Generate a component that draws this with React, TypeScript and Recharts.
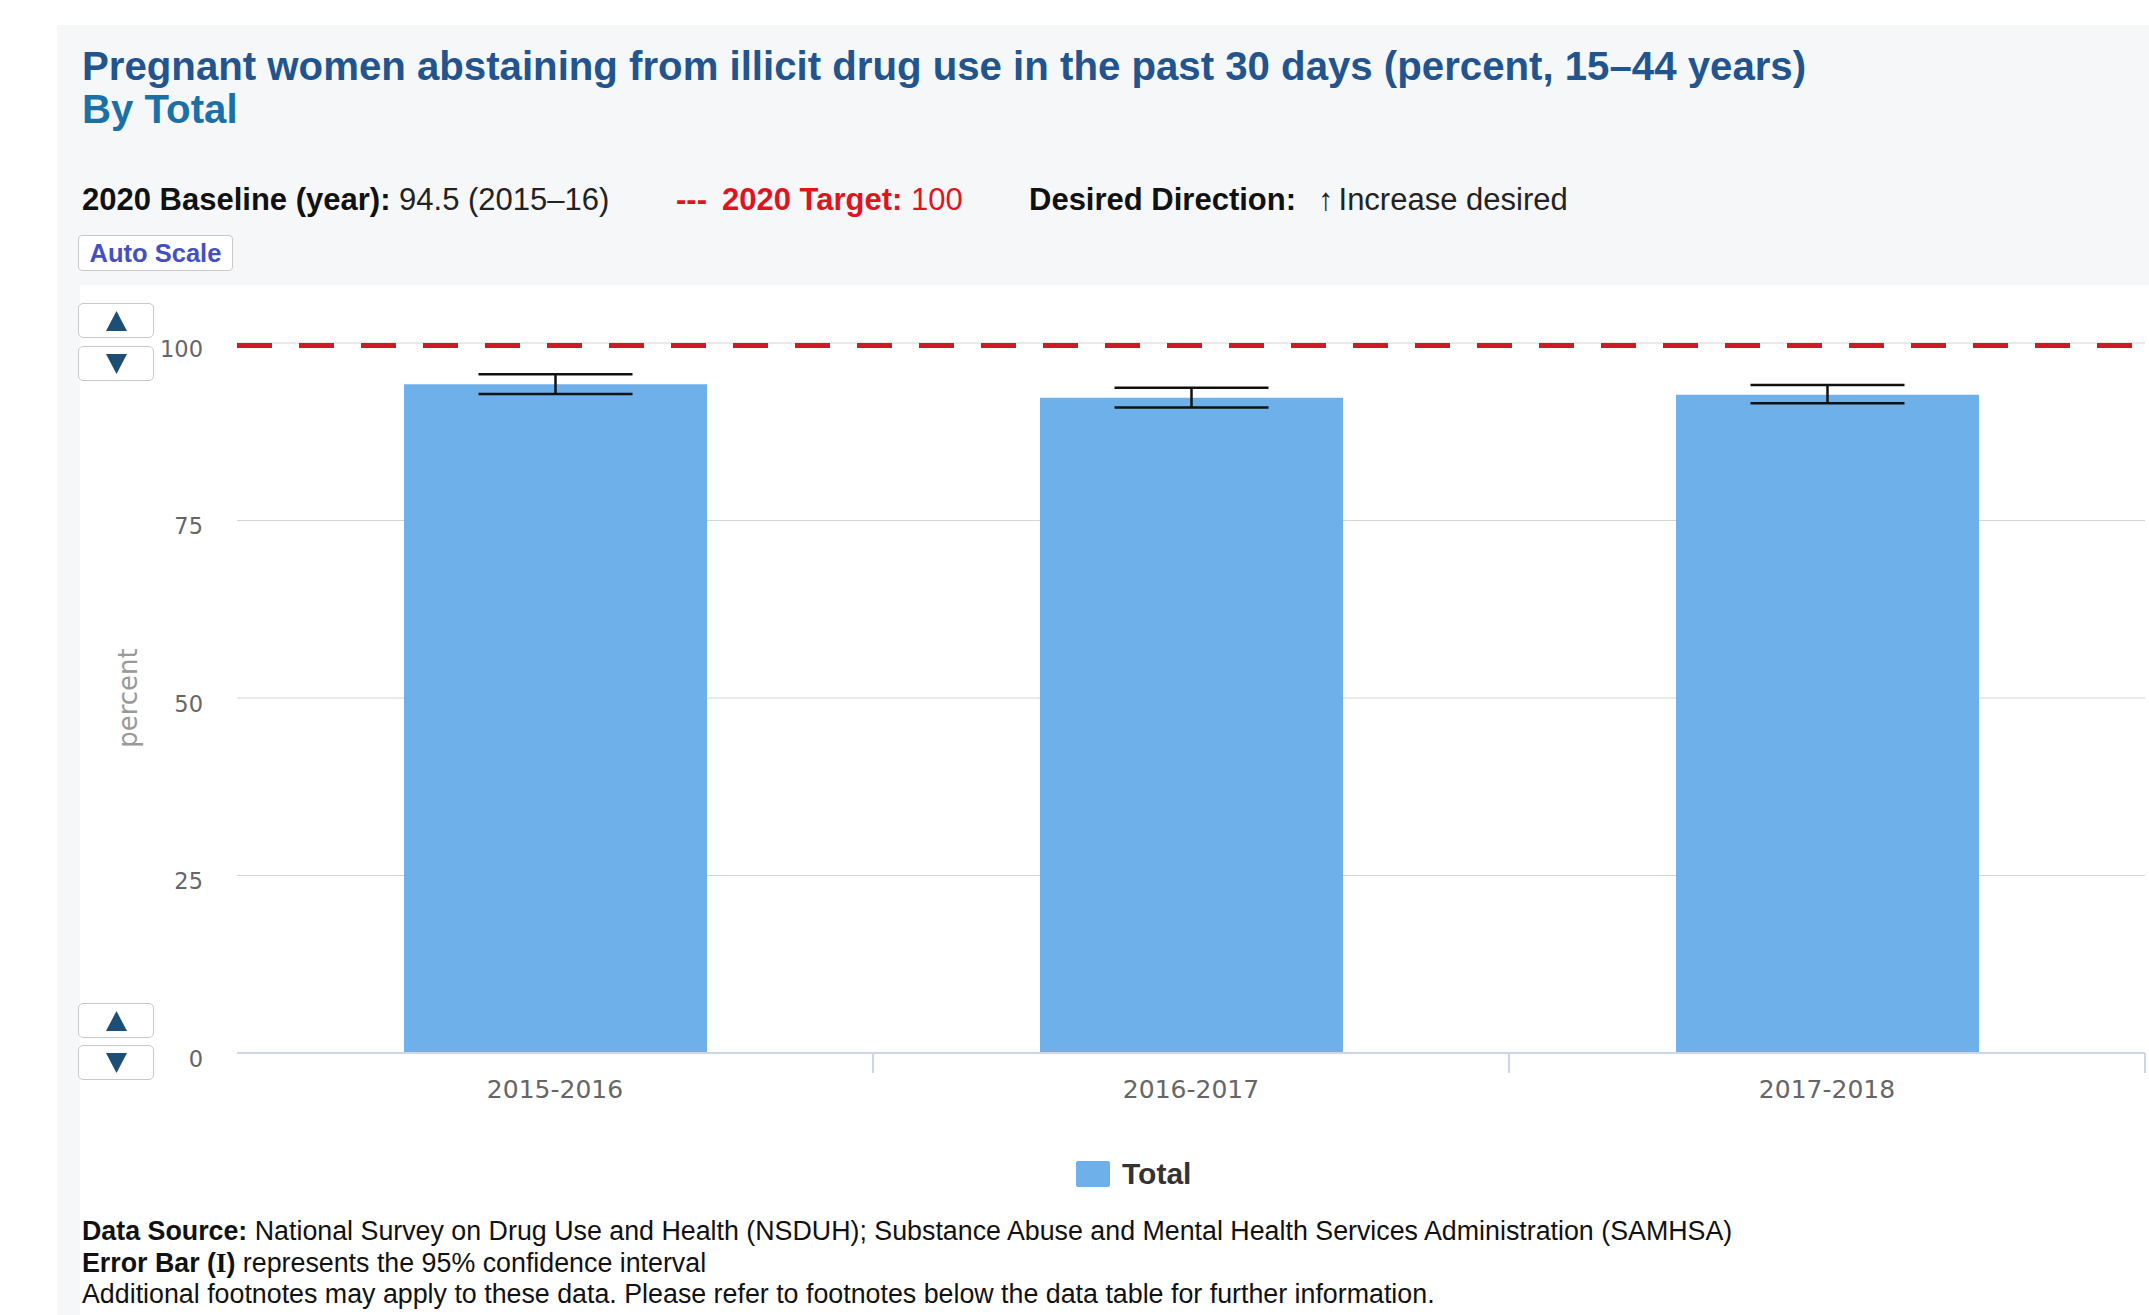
import React from "react";
import {
  BarChart,
  Bar,
  XAxis,
  YAxis,
  CartesianGrid,
  ReferenceLine,
  ErrorBar,
  Label,
} from "recharts";

// values
const CATEGORIES = ["2015-2016", "2016-2017", "2017-2018"];
const TOTAL = [94.2, 92.3, 92.7];
const CI_LOW = [92.8, 90.9, 91.5];
const CI_HIGH = [95.6, 93.7, 94.1];
const Y_TICKS = [0, 25, 50, 75, 100];
const TARGET = 100;

const BAR_COLOR = "#6eb0ea";
const RED = "#e0141e";
const SANS = "'Liberation Sans', Arial, Helvetica, sans-serif";
const AXIS_FONT = "'DejaVu Sans', sans-serif";

const data = CATEGORIES.map((year, i) => ({
  year,
  total: TOTAL[i],
  ci: [TOTAL[i] - CI_LOW[i], CI_HIGH[i] - TOTAL[i]],
}));

const XTick = (props: any) => (
  <text
    x={props.x}
    y={props.y}
    dy={19}
    textAnchor="middle"
    fill="#666"
    fontSize={25}
    fontFamily={AXIS_FONT}
  >
    {props.payload.value}
  </text>
);

const YTick = (props: any) => (
  <text
    x={props.x}
    y={props.y}
    dy={13.5}
    textAnchor="end"
    fill="#666"
    fontSize={22.5}
    fontFamily={AXIS_FONT}
  >
    {props.payload.value}
  </text>
);

// target line sits a touch below the 100 gridline in the original
const TargetLine = (p: any) => (
  <line
    x1={p.x1}
    y1={p.y1 + 2.5}
    x2={p.x2}
    y2={p.y2 + 2.5}
    stroke="#cc1b26"
    strokeWidth={5}
    strokeDasharray="35 27"
  />
);

function ArrowButton({ top, up }: { top: number; up: boolean }) {
  return (
    <div
      style={{
        position: "absolute",
        left: 78,
        top,
        width: 74,
        height: 33,
        border: "1px solid #c9c9c9",
        borderRadius: 5,
        background: "#fff",
        boxSizing: "content-box",
      }}
    >
      <svg width={74} height={33} style={{ display: "block" }}>
        {up ? (
          <polygon points="27,27 48,27 37.5,7" fill="#1d4e75" />
        ) : (
          <polygon points="27,7 48,7 37.5,27" fill="#1d4e75" />
        )}
      </svg>
    </div>
  );
}

export default function App() {
  return (
    <div
      style={{
        position: "relative",
        width: 2149,
        height: 1315,
        background: "#fff",
        overflow: "hidden",
        fontFamily: SANS,
      }}
    >
      <style>{`body{margin:0}`}</style>
      {/* panel backgrounds */}
      <div
        style={{
          position: "absolute",
          left: 57,
          top: 25,
          width: 2092,
          height: 1290,
          background: "#f6f7f9",
        }}
      />
      <div
        style={{
          position: "absolute",
          left: 80,
          top: 285,
          width: 2069,
          height: 1030,
          background: "#fff",
        }}
      />

      {/* title */}
      <div
        style={{
          position: "absolute",
          left: 82,
          top: 47,
          fontSize: 40.2,
          lineHeight: "40px",
          fontWeight: "bold",
          color: "#22548e",
          whiteSpace: "nowrap",
        }}
      >
        Pregnant women abstaining from illicit drug use in the past 30 days
        (percent, 15–44 years)
      </div>
      <div
        style={{
          position: "absolute",
          left: 82,
          top: 90,
          fontSize: 40.2,
          lineHeight: "40px",
          fontWeight: "bold",
          color: "#1a70a8",
          whiteSpace: "nowrap",
        }}
      >
        By Total
      </div>

      {/* info row */}
      <div
        style={{
          position: "absolute",
          left: 82,
          top: 184,
          fontSize: 31,
          lineHeight: "31px",
          color: "#222",
          whiteSpace: "nowrap",
        }}
      >
        <b style={{ color: "#111" }}>2020 Baseline (year):</b> 94.5 (2015–16)
      </div>
      <div
        style={{
          position: "absolute",
          left: 676,
          top: 184,
          fontSize: 31,
          lineHeight: "31px",
          color: RED,
          whiteSpace: "nowrap",
        }}
      >
        <b>---</b>
        <span style={{ marginLeft: 15 }}>
          <b>2020 Target:</b> 100
        </span>
      </div>
      <div
        style={{
          position: "absolute",
          left: 1029,
          top: 184,
          fontSize: 31,
          lineHeight: "31px",
          color: "#222",
          whiteSpace: "nowrap",
        }}
      >
        <b style={{ color: "#111" }}>Desired Direction:</b>
        <span style={{ marginLeft: 22, marginRight: 5 }}>↑</span>
        <span>Increase desired</span>
      </div>

      {/* auto scale button */}
      <div
        style={{
          position: "absolute",
          left: 78,
          top: 235,
          width: 153,
          height: 34,
          border: "1px solid #c9c9c9",
          borderRadius: 4,
          background: "#fff",
          display: "flex",
          alignItems: "center",
          justifyContent: "center",
          fontSize: 25.5,
          fontWeight: "bold",
          color: "#4450c0",
        }}
      >
        Auto Scale
      </div>

      <ArrowButton top={303} up />
      <ArrowButton top={346} up={false} />
      <ArrowButton top={1003} up />
      <ArrowButton top={1045} up={false} />

      {/* chart */}
      <div style={{ position: "absolute", left: 0, top: 0 }}>
        <BarChart
          width={2149}
          height={1315}
          data={data}
          margin={{ top: 343, right: 4, left: 0, bottom: 202 }}
        >
          <CartesianGrid vertical={false} stroke="#d4d4d4" strokeWidth={1} />
          <XAxis
            dataKey="year"
            height={60}
            axisLine={{ stroke: "#ccd6eb", strokeWidth: 2 }}
            tickLine={false}
            tickSize={0}
            tickMargin={26}
            tick={<XTick />}
          />
          <YAxis
            width={237}
            domain={[0, 100]}
            ticks={Y_TICKS}
            axisLine={false}
            tickLine={false}
            tickSize={0}
            tickMargin={34}
            tick={<YTick />}
          >
            <Label
              value="percent"
              angle={-90}
              position="center"
              dx={9}
              fill="#999"
              fontSize={26}
              fontFamily={AXIS_FONT}
            />
          </YAxis>
          <Bar
            dataKey="total"
            fill={BAR_COLOR}
            barSize={303}
            isAnimationActive={false}
          >
            <ErrorBar
              dataKey="ci"
              width={77}
              stroke="#111"
              strokeWidth={2.5}
              direction="y"
            />
          </Bar>
          <ReferenceLine y={TARGET} shape={TargetLine} />
          {CATEGORIES.map((c) => (
            <ReferenceLine
              key={c}
              segment={[
                { x: c, y: 0 },
                { x: c, y: -2.8 },
              ]}
              position="end"
              ifOverflow="visible"
              stroke="#ccd6eb"
              strokeWidth={2}
            />
          ))}
        </BarChart>
      </div>

      {/* legend */}
      <div
        style={{
          position: "absolute",
          left: 1076,
          top: 1161,
          width: 34,
          height: 26,
          background: BAR_COLOR,
          borderRadius: 2,
        }}
      />
      <div
        style={{
          position: "absolute",
          left: 1122,
          top: 1159,
          fontSize: 30,
          lineHeight: "30px",
          fontWeight: "bold",
          color: "#333",
          whiteSpace: "nowrap",
        }}
      >
        Total
      </div>

      {/* footnotes */}
      <div
        style={{
          position: "absolute",
          left: 82,
          top: 1216,
          fontSize: 26.8,
          lineHeight: "31.5px",
          color: "#111",
          whiteSpace: "nowrap",
        }}
      >
        <div>
          <b>Data Source:</b> National Survey on Drug Use and Health (NSDUH);
          Substance Abuse and Mental Health Services Administration (SAMHSA)
        </div>
        <div>
          <b>
            Error Bar (
            <span style={{ fontFamily: "'Liberation Serif', serif" }}>I</span>)
          </b>{" "}
          represents the 95% confidence interval
        </div>
        <div>
          Additional footnotes may apply to these data. Please refer to
          footnotes below the data table for further information.
        </div>
      </div>
    </div>
  );
}
